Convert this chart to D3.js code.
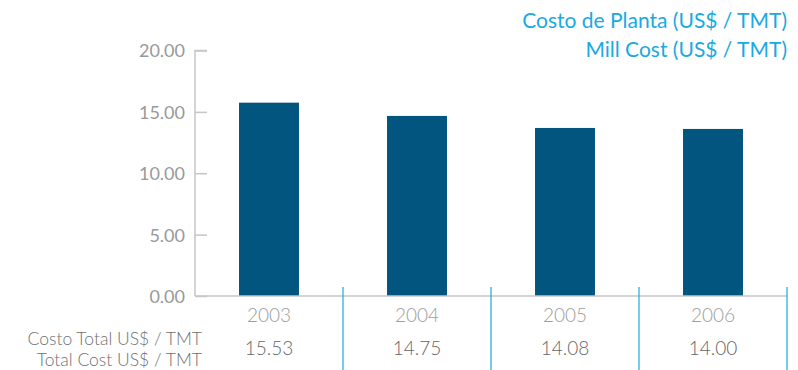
<!DOCTYPE html>
<html>
<head>
<meta charset="utf-8">
<script src="https://cdn.jsdelivr.net/npm/d3@7"></script>
<style>
  html, body { margin: 0; padding: 0; background: #fff; }
  svg { display: block; font-family: Lato, "Open Sans", sans-serif; }
</style>
</head>
<body>
<svg id="chart" width="798" height="370"></svg>
<script>
// Mill cost per year (bars) and total cost per year (table row)
const years = ["2003", "2004", "2005", "2006"];
const millCost = [15.75, 14.67, 13.69, 13.61];
const totalCost = ["15.53", "14.75", "14.08", "14.00"];
const yTicks = [0, 5, 10, 15, 20];
const titleLines = ["Costo de Planta (US$ / TMT)", "Mill Cost (US$ / TMT)"];
const rowLabelLines = ["Costo Total US$ / TMT", "Total Cost US$ / TMT"];

const svg = d3.select("#chart");

const x = d3.scaleBand().domain(years).range([195, 787]).paddingInner(0.595).paddingOuter(0.2975);
const band = d3.scaleBand().domain(years).range([195, 787]);
const y = d3.scaleLinear().domain([0, 20]).range([296, 50.5]);

// Title, top right
svg.append("g")
  .selectAll("text")
  .data(titleLines)
  .join("text")
  .attr("x", 787)
  .attr("y", (d, i) => 28 + i * 29)
  .attr("text-anchor", "end")
  .attr("fill", "#1ba9e1")
  .attr("font-size", 21)
  .text(d => d);

// Y axis with ticks pointing right
const yAxis = d3.axisRight(y)
  .tickValues(yTicks)
  .tickSize(12)
  .tickFormat(d => d3.format(".2f")(d));
const gy = svg.append("g").attr("transform", "translate(195,0)").call(yAxis);
gy.select(".domain").attr("stroke", "#c6c6c6").attr("stroke-width", 1.5).attr("d", `M12,${y(20)}H0V${y(0)}`);
gy.selectAll(".tick line").attr("stroke", "#c6c6c6").attr("stroke-width", 1.5);
gy.selectAll(".tick text")
  .attr("x", -10)
  .attr("text-anchor", "end")
  .attr("dy", "0.36em")
  .attr("fill", "#999")
  .attr("font-size", 18)
  .attr("font-family", "Lato, sans-serif");

// Bars
svg.append("g")
  .selectAll("rect")
  .data(years.map((yr, i) => ({ yr, v: millCost[i] })))
  .join("rect")
  .attr("x", d => x(d.yr))
  .attr("width", x.bandwidth())
  .attr("y", d => y(d.v))
  .attr("height", d => y(0) - y(d.v))
  .attr("fill", "#02557f");

// Baseline
svg.append("line")
  .attr("x1", 195).attr("x2", 787)
  .attr("y1", y(0)).attr("y2", y(0))
  .attr("stroke", "#c6c6c6").attr("stroke-width", 1.5);

// Column dividers
svg.append("g")
  .selectAll("line")
  .data(years)
  .join("line")
  .attr("x1", d => band(d) + band.bandwidth())
  .attr("x2", d => band(d) + band.bandwidth())
  .attr("y1", 287).attr("y2", 370)
  .attr("stroke", "#1ba9e1").attr("stroke-width", 1.2);

// Year labels
svg.append("g")
  .selectAll("text")
  .data(years)
  .join("text")
  .attr("x", d => band(d) + band.bandwidth() / 2)
  .attr("y", 322)
  .attr("text-anchor", "middle")
  .attr("fill", "#9d9d9d")
  .attr("font-size", 19)
  .attr("font-weight", 300)
  .text(d => d);

// Total cost row
svg.append("g")
  .selectAll("text")
  .data(years.map((yr, i) => ({ yr, t: totalCost[i] })))
  .join("text")
  .attr("x", d => band(d.yr) + band.bandwidth() / 2)
  .attr("y", 355)
  .attr("text-anchor", "middle")
  .attr("fill", "#666")
  .attr("font-size", 19)
  .attr("font-weight", 300)
  .text(d => d.t);

// Row label
svg.append("g")
  .selectAll("text")
  .data(rowLabelLines)
  .join("text")
  .attr("x", 202)
  .attr("y", (d, i) => 345 + i * 21)
  .attr("text-anchor", "end")
  .attr("fill", "#707070")
  .attr("font-size", 17.5)
  .attr("font-weight", 300)
  .text(d => d);
</script>
</body>
</html>
